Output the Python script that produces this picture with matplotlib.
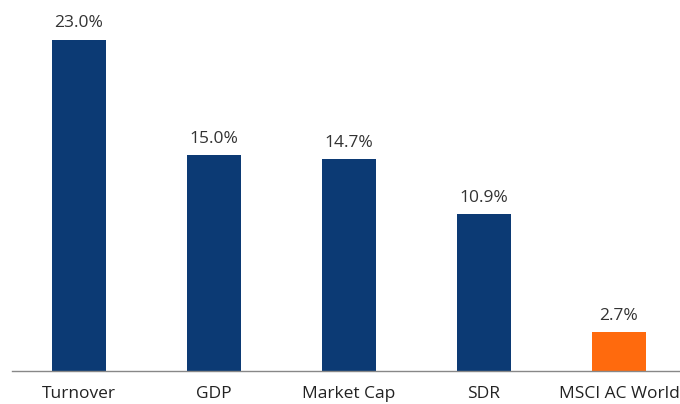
import matplotlib.pyplot as plt

categories = ["Turnover", "GDP", "Market Cap", "SDR", "MSCI AC World"]
values = [23.0, 15.0, 14.7, 10.9, 2.7]
colors = ["#0c3a74", "#0c3a74", "#0c3a74", "#0c3a74", "#ff6a0d"]

plt.rcParams['font.family'] = ['Open Sans', 'DejaVu Sans']

fig = plt.figure(figsize=(6.8, 4.04), dpi=100)
ax = fig.add_axes([11.5 / 680, 33 / 404, 675 / 680, 371 / 404])

x = range(len(categories))
bars = ax.bar(x, values, width=0.4, color=colors)

for b, v in zip(bars, values):
    ax.annotate(f"{v:.1f}%", (b.get_x() + b.get_width() / 2, v),
                xytext=(0, 6), textcoords="offset points",
                ha="center", va="bottom", fontsize=12.5, color="#333333")

ax.set_xlim(-0.5, 4.5)
ax.set_ylim(0, 371 / 14.4)
ax.set_xticks(list(x))
ax.set_xticklabels(categories, fontsize=12.5, color="#222222")
# Labels stay fully inside the canvas
ax.tick_params(axis="x", length=0, pad=11)
ax.set_yticks([])
for s in ["top", "right", "left"]:
    ax.spines[s].set_visible(False)
ax.spines["bottom"].set_color("#888888")
ax.spines["bottom"].set_linewidth(1)

plt.savefig("out.png", dpi=100)
